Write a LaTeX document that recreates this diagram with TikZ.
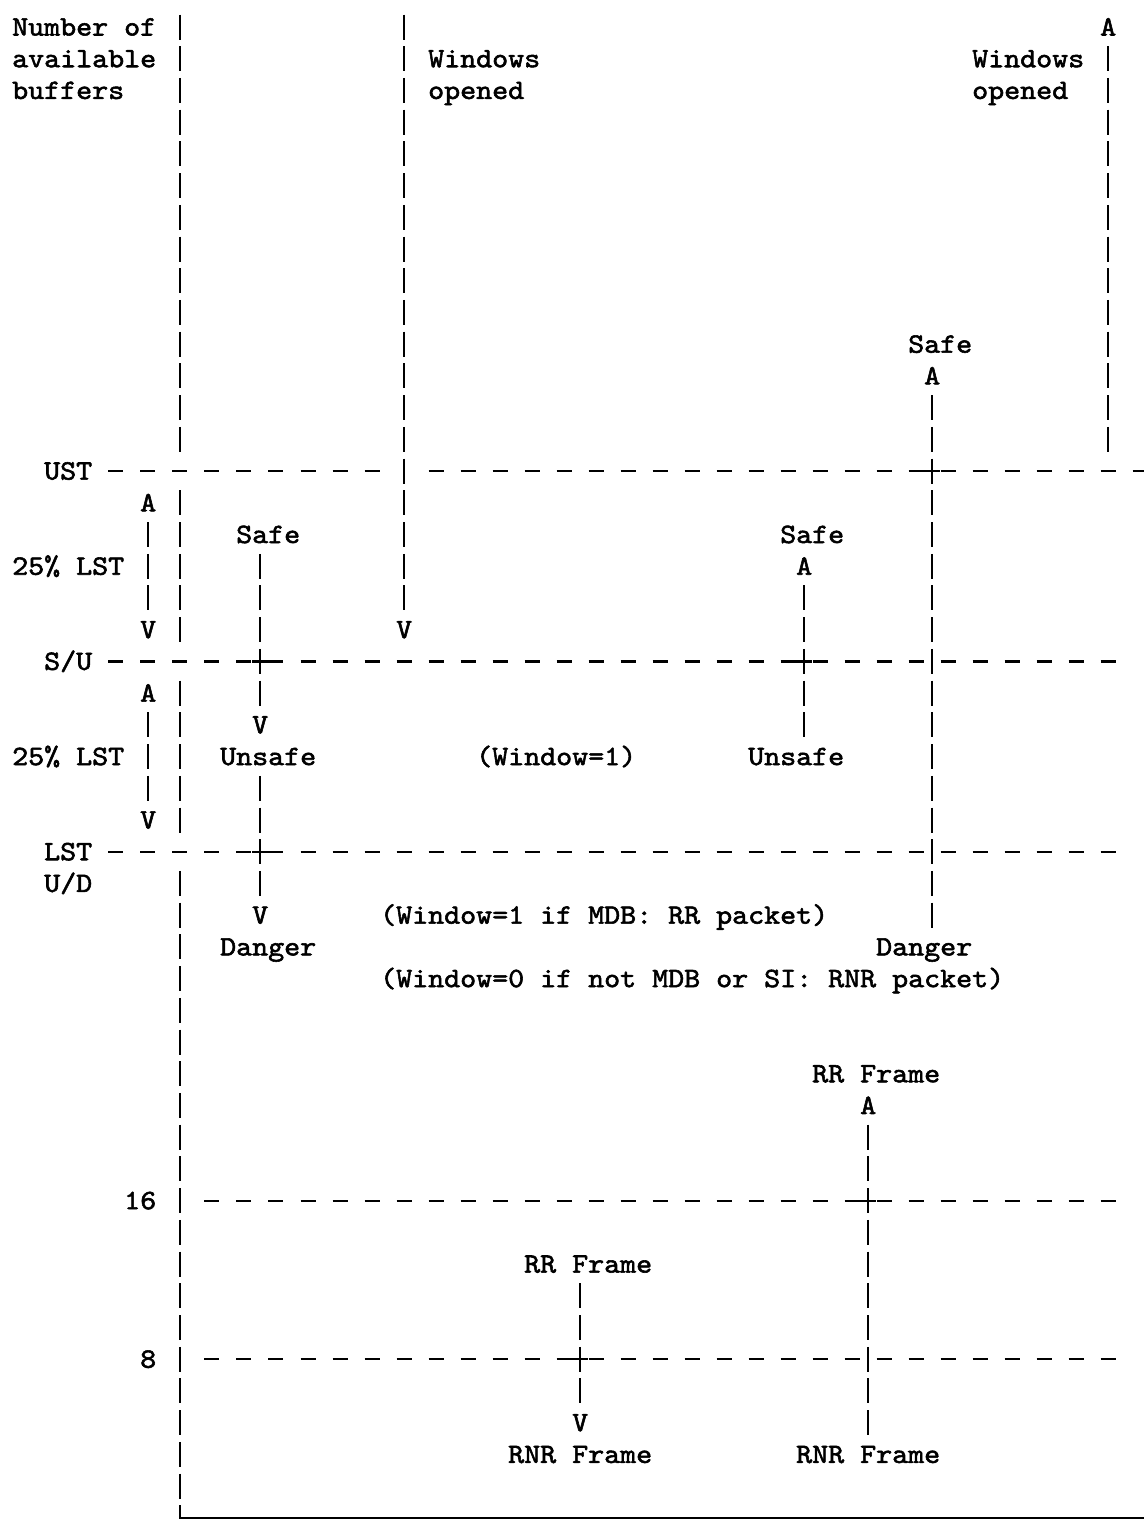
\documentclass[tikz,border=0pt]{standalone}
\usepackage{tikz}
% typewriter face of the chart, widened to the 16px column pitch
\font\chartfont="[lmmono10-regular.otf]:extend=1.0884;embolden=2" at 28pt

\begin{document}
\begin{tikzpicture}[x=16pt, y=-31.72pt, shift={(4pt,-27pt)},
    lbl/.style={anchor=base west, inner sep=0pt, xshift=-8pt, yshift=-8.5pt, font=\chartfont},
    pipe/.style={line width=2.7pt, dash pattern=on 25pt off 6.72pt},
    hdashes/.style={line width=2.3pt, dash pattern=on 15pt off 17pt},
    crossbar/.style={line width=2.3pt}]
    \path[use as bounding box, fill=white] (-0.25,-0.8512) rectangle (71.1875,47.068);
    % Axis title and top labels
    \node[lbl] (numof) at (1,0) {Number of};
    \node[lbl] (avail) at (1,1) {available};
    \node[lbl] (buff) at (1,2) {buffers};
    \node[lbl] (winL1) at (27,1) {Windows};
    \node[lbl] (winL2) at (27,2) {opened};
    \node[lbl] (winR1) at (61,1) {Windows};
    \node[lbl] (winR2) at (61,2) {opened};
    \node[lbl] (upR) at (69,0) {A};
    % Threshold names
    \node[lbl] (ust) at (3,14) {UST};
    \node[lbl] (su) at (3,20) {S/U};
    \node[lbl] (lst) at (3,26) {LST};
    \node[lbl] (ud) at (3,27) {U/D};
    \node[lbl] (sixteen) at (8,37) {16};
    \node[lbl] (eight) at (9,42) {8};
    % 25% LST spans
    \node[lbl] (a1) at (9,15) {A};
    \node[lbl] (pctA) at (1,17) {25\% LST};
    \node[lbl] (v1) at (9,19) {V};
    \node[lbl] (a2) at (9,21) {A};
    \node[lbl] (pctB) at (1,23) {25\% LST};
    \node[lbl] (v2) at (9,25) {V};
    % Left transitions
    \node[lbl] (safeL) at (15,16) {Safe};
    \node[lbl] (unsafeLV) at (16,22) {V};
    \node[lbl] (unsafeL) at (14,23) {Unsafe};
    \node[lbl] (dangerLV) at (16,28) {V};
    \node[lbl] (dangerL) at (14,29) {Danger};
    \node[lbl] (winV) at (25,19) {V};
    % Middle and right transitions
    \node[lbl] (safeR) at (57,10) {Safe};
    \node[lbl] (safeRA) at (58,11) {A};
    \node[lbl] (safeM) at (49,16) {Safe};
    \node[lbl] (safeMA) at (50,17) {A};
    \node[lbl] (unsafeM) at (47,23) {Unsafe};
    \node[lbl] (dangerR) at (55,29) {Danger};
    \node[lbl] (win1) at (30,23) {(Window=1)};
    \node[lbl] (rrpkt) at (24,28) {(Window=1 if MDB: RR packet)};
    \node[lbl] (rnrpkt) at (24,30) {(Window=0 if not MDB or SI: RNR packet)};
    % Frame transitions
    \node[lbl] (rrR) at (51,33) {RR Frame};
    \node[lbl] (rrRA) at (54,34) {A};
    \node[lbl] (rrM) at (33,39) {RR Frame};
    \node[lbl] (rnrMV) at (36,44) {V};
    \node[lbl] (rnrM) at (32,45) {RNR Frame};
    \node[lbl] (rnrR) at (50,45) {RNR Frame};
    % Vertical axis and bottom edge
    \draw[pipe] (11,-0.394) -- (11,13.394);
    \draw[pipe] (11,14.606) -- (11,19.394);
    \draw[pipe] (11,20.606) -- (11,25.394);
    \draw[pipe] (11,26.606) -- (11,46.394);
    \draw[line width=2.6pt] (11,46.595) -- (11,47.005) -- (71.3,47.005);
    % Windows opened lines
    \draw[pipe] (25,-0.394) -- (25,18.394);
    \draw[pipe] (69,0.606) -- (69,13.394);
    % 25% LST spans
    \draw[pipe] (9,15.606) -- (9,18.394);
    \draw[pipe] (9,21.606) -- (9,24.394);
    % Safe / Unsafe / Danger lines
    \draw[pipe] (16,16.606) -- (16,21.394);
    \draw[pipe] (16,23.606) -- (16,27.394);
    \draw[pipe] (50,17.606) -- (50,22.394);
    \draw[pipe] (58,11.606) -- (58,28.394);
    % RR / RNR frame lines
    \draw[pipe] (54,34.606) -- (54,44.394);
    \draw[pipe] (36,39.606) -- (36,43.394);
    % Thresholds
    \draw[hdashes] (6.531,14) -- (23.469,14);
    \draw[hdashes] (26.531,14) -- (71.469,14);
    \draw[hdashes] (6.531,20) -- (69.469,20);
    \draw[hdashes] (6.531,26) -- (69.469,26);
    \draw[hdashes] (12.531,37) -- (69.469,37);
    \draw[hdashes] (12.531,42) -- (69.469,42);
    % Crossings
    \draw[crossbar] (57.5,14) -- (58.5,14);
    \draw[crossbar] (15.5,20) -- (16.5,20);
    \draw[crossbar] (49.5,20) -- (50.5,20);
    \draw[crossbar] (15.5,26) -- (16.5,26);
    \draw[crossbar] (53.5,37) -- (54.5,37);
    \draw[crossbar] (35.5,42) -- (36.5,42);
\end{tikzpicture}
\end{document}
